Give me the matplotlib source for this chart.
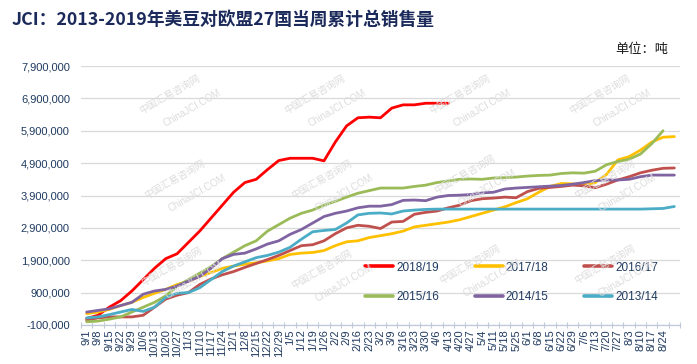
import numpy as np
import matplotlib
matplotlib.use('Agg')
import matplotlib.pyplot as plt
from matplotlib.ticker import FixedLocator, FuncFormatter

# week labels (last category has no label)
weeks = ['9/1', '9/8', '9/15', '9/22', '9/29', '10/6', '10/13', '10/20', '10/27',
         '11/3', '11/10', '11/17', '11/24', '12/1', '12/8', '12/15', '12/22', '12/29',
         '1/5', '1/12', '1/19', '1/26', '2/2', '2/9', '2/16', '2/23', '3/2', '3/9',
         '3/16', '3/23', '3/30', '4/6', '4/13', '4/20', '4/27', '5/4', '5/11', '5/18',
         '5/25', '6/1', '6/8', '6/15', '6/22', '6/29', '7/6', '7/13', '7/20', '7/27',
         '8/3', '8/10', '8/17', '8/24', '']

# cumulative sales, thousand tonnes
s2018_19 = [100, 200, 450, 650, 950, 1300, 1650, 1950, 2100, 2450, 2800, 3200, 3600,
            4000, 4300, 4400, 4700, 4980, 5050, 5050, 5050, 4970, 5550, 6050, 6300,
            6320, 6300, 6600, 6700, 6700, 6750, 6750, 6750]
s2017_18 = [250, 300, 380, 500, 600, 750, 880, 1000, 1150, 1250, 1400, 1520, 1650,
            1720, 1780, 1820, 1880, 1950, 2080, 2120, 2140, 2200, 2350, 2470, 2500,
            2600, 2660, 2720, 2800, 2930, 2980, 3030, 3080, 3150, 3250, 3350, 3450,
            3550, 3680, 3800, 4000, 4180, 4270, 4260, 4220, 4300, 4550, 5000, 5100,
            5300, 5550, 5700, 5720]
s2016_17 = [50, 120, 150, 150, 150, 200, 450, 700, 820, 900, 1150, 1320, 1450, 1550,
            1680, 1800, 1920, 2050, 2200, 2350, 2380, 2500, 2720, 2900, 2980, 2950,
            2880, 3080, 3100, 3320, 3380, 3420, 3520, 3600, 3740, 3800, 3820, 3850,
            3830, 4020, 4120, 4150, 4180, 4220, 4200, 4140, 4250, 4380, 4480, 4600,
            4680, 4740, 4750]
s2015_16 = [0, 20, 80, 150, 300, 450, 600, 800, 1100, 1300, 1500, 1700, 1950, 2150,
            2350, 2500, 2800, 3000, 3200, 3350, 3450, 3600, 3720, 3850, 3970, 4050,
            4130, 4130, 4130, 4180, 4220, 4300, 4350, 4400, 4410, 4400, 4440, 4450,
            4470, 4500, 4520, 4530, 4580, 4600, 4590, 4650, 4850, 4950, 5020, 5180,
            5500, 5900]
s2014_15 = [300, 350, 400, 500, 600, 850, 950, 1000, 1100, 1250, 1400, 1650, 1950,
            2080, 2120, 2250, 2400, 2500, 2700, 2850, 3050, 3250, 3350, 3420, 3520,
            3570, 3570, 3620, 3750, 3760, 3740, 3850, 3900, 3910, 3930, 3980, 4000,
            4100, 4130, 4150, 4170, 4190, 4210, 4250, 4300, 4360, 4380, 4380, 4400,
            4480, 4530, 4530, 4530]
s2013_14 = [120, 150, 220, 300, 380, 320, 450, 750, 880, 900, 1050, 1300, 1550, 1720,
            1850, 1980, 2050, 2150, 2300, 2550, 2780, 2820, 2850, 3050, 3300, 3350,
            3360, 3330, 3420, 3450, 3470, 3480, 3480, 3480, 3480, 3480, 3480, 3480,
            3480, 3480, 3480, 3480, 3480, 3480, 3480, 3480, 3480, 3480, 3480, 3480,
            3490, 3500, 3560]

series = [('2018/19', s2018_19, '#FF0000'),
          ('2017/18', s2017_18, '#FFC000'),
          ('2016/17', s2016_17, '#C0504D'),
          ('2015/16', s2015_16, '#9BBB59'),
          ('2014/15', s2014_15, '#8064A2'),
          ('2013/14', s2013_14, '#4BACC6')]

navy = '#1F3A60'
plt.rcParams['font.family'] = ['Liberation Sans', 'DejaVu Sans']

fig = plt.figure(figsize=(6.97, 3.64), dpi=100)
ax = fig.add_axes([81 / 697, 39 / 364, 599 / 697, 259 / 364])

# faint watermark
wm_pos = [(170, 100), (315, 100), (460, 100), (600, 100),
          (175, 185), (322, 185), (465, 180), (605, 185),
          (172, 272), (322, 275), (470, 270), (605, 270)]
for px, py in wm_pos:
    fig.text(px / 697, 1 - (py - 6) / 364, '中国汇易咨询网', rotation=30,
             ha='center', va='center', fontsize=7, color='#DCDCDC',
             family=['Noto Sans CJK SC', 'DejaVu Sans'], zorder=0)
    fig.text((px + 22) / 697, 1 - (py + 8) / 364, 'ChinaJCI.COM', rotation=30,
             ha='center', va='center', fontsize=7, color='#DCDCDC', zorder=0)

handles = []
for name, vals, col in series:
    y = np.array(vals) * 1000
    h, = ax.plot(np.arange(len(y)), y, color=col, lw=2.0, label=name,
                 solid_joinstyle='round', solid_capstyle='round', zorder=3)
    handles.append(h)

ax.set_xlim(-0.5, len(weeks) - 0.5)
ax.set_ylim(-100000, 7900000)
ax.set_yticks(np.arange(-100000, 7900001, 1000000))
ax.yaxis.set_major_formatter(FuncFormatter(lambda v, _: f'{v:,.0f}'))
ax.grid(axis='y', color='#D9D9D9', lw=0.9, zorder=0)
ax.set_axisbelow(True)
ax.patch.set_alpha(0)

ax.set_xticks(np.arange(len(weeks)))
ax.set_xticklabels(weeks, rotation=90, ha='center', va='top')
ax.xaxis.set_minor_locator(FixedLocator(np.arange(-0.5, len(weeks), 1)))
ax.tick_params(axis='x', which='major', length=0, pad=3, labelsize=8, labelcolor=navy)
ax.tick_params(axis='x', which='minor', length=4, direction='inout', color='#BFC9D9', width=0.8)
ax.tick_params(axis='y', length=0, pad=8, labelsize=8, labelcolor=navy)

for s in ['top', 'right', 'left']:
    ax.spines[s].set_visible(False)
ax.spines['bottom'].set_color('#BFC9D9')
ax.spines['bottom'].set_linewidth(0.9)

# legend filled row by row: reorder for column-major layout
order = [0, 3, 1, 4, 2, 5]
leg = ax.legend([handles[i] for i in order], [series[i][0] for i in order],
                ncol=3, loc='upper left', bbox_to_anchor=(0.474, 0.245),
                frameon=False, fontsize=8.5, handlelength=2.4, handletextpad=0.25,
                columnspacing=3.0, labelspacing=1.45, borderpad=0, borderaxespad=0)
for line in leg.get_lines():
    line.set_linewidth(2.6)
for t in leg.get_texts():
    t.set_color(navy)

fig.text(12 / 697, 1 - 20 / 364, 'JCI：2013-2019年美豆对欧盟27国当周累计总销售量',
         ha='left', va='center', fontsize=12.8, fontweight='bold', color='#1B2A5A',
         family=['Noto Sans CJK SC', 'DejaVu Sans'])
fig.text(668 / 697, 1 - 50 / 364, '单位：吨', ha='right', va='center', fontsize=9.5,
         color='#1A1A1A', family=['Noto Sans CJK SC', 'DejaVu Sans'])

fig.savefig('out.png', dpi=100)
